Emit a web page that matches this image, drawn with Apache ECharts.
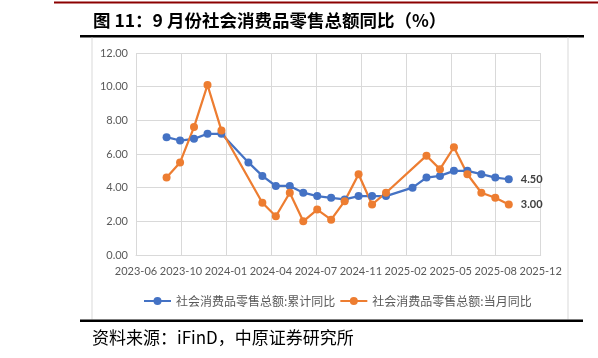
<!DOCTYPE html>
<html>
<head>
<meta charset="utf-8">
<script src="https://cdn.jsdelivr.net/npm/echarts@6/dist/echarts.min.js"></script>
<style>
html,body{margin:0;padding:0;background:#fff;}
#chart{width:598px;height:358px;}
</style>
</head>
<body>
<div id="chart"></div>
<script>
// ---- Data ----
const months = ['2023-08','2023-09','2023-10','2023-11','2023-12','2024-02','2024-03','2024-04','2024-05','2024-06','2024-07','2024-08','2024-09','2024-10','2024-11','2024-12','2025-02','2025-03','2025-04','2025-05','2025-06','2025-07','2025-08','2025-09'];
const cumulativeYoY = [7.0,6.8,6.9,7.2,7.2,5.5,4.7,4.1,4.1,3.7,3.5,3.4,3.3,3.5,3.5,3.5,4.0,4.6,4.7,5.0,5.0,4.8,4.6,4.5];
const monthlyYoY = [4.6,5.5,7.6,10.1,7.4,null,3.1,2.3,3.7,2.0,2.7,2.1,3.2,4.8,3.0,3.7,null,5.9,5.1,6.4,4.8,3.7,3.4,3.0];
const xTickLabels = ['2023-06','2023-10','2024-01','2024-04','2024-07','2024-11','2025-02','2025-05','2025-08','2025-12'];
const yTickValues = [0,2,4,6,8,10,12];
const seriesNames = ['社会消费品零售总额:累计同比','社会消费品零售总额:当月同比'];
const titleText = '图 11：9 月份社会消费品零售总额同比（%）';
const sourceText = '资料来源：iFinD，中原证券研究所';
const axisStartDate = [2023, 6, 24];
const tickDays = 100;

// ---- Helpers ----
const DAY = 864e5;
const origin = Date.UTC(axisStartDate[0], axisStartDate[1]-1, axisStartDate[2]);
function dayOffset(m){
  const p = m.split('-').map(Number);
  return (Date.UTC(p[0], p[1], 0) - origin) / DAY; // month-end date
}
function buildData(vals){
  const last = vals.length - 1;
  return vals.map((v,i)=>{
    const item = {value:[dayOffset(months[i]), v]};
    if (i === last) item.label = {show:true};
    return item;
  });
}

const chart = echarts.init(document.getElementById('chart'), null, {renderer:'canvas'});
const gray = '#d9d9d9';
const txt = '#595959';
const tickFont = 'Lato, "Open Sans", sans-serif';

const option = {
  backgroundColor:'#fff',
  animation:false,
  grid:{left:136, right:57.3, top:53, bottom:103, containLabel:false, outerBoundsMode:'none'},
  xAxis:{
    type:'value',
    min:0, max:tickDays*(xTickLabels.length-1), interval:tickDays,
    axisLine:{show:true, lineStyle:{color:gray, width:1}},
    axisTick:{show:false},
    splitLine:{show:true, lineStyle:{color:gray, width:1}},
    axisLabel:{color:txt, fontSize:11, fontFamily:tickFont, margin:11,
      formatter:(v)=>xTickLabels[Math.round(v/tickDays)] || ''}
  },
  yAxis:{
    type:'value',
    min:yTickValues[0], max:yTickValues[yTickValues.length-1], interval:yTickValues[1]-yTickValues[0],
    axisLine:{show:false}, axisTick:{show:false},
    splitLine:{show:true, lineStyle:{color:gray, width:1}},
    axisLabel:{color:txt, fontSize:11, fontFamily:tickFont, margin:8, formatter:(v)=>v.toFixed(2)}
  },
  legend:{
    left:138, top:290, itemGap:4, itemWidth:27, itemHeight:10,
    textStyle:{color:txt, fontSize:12, fontFamily:'"Noto Sans CJK SC", sans-serif'},
    data:seriesNames
  },
  series:[
    {name:seriesNames[0], type:'line', data:buildData(cumulativeYoY), connectNulls:true,
     symbol:'circle', symbolSize:8, itemStyle:{color:'#4472C4'}, lineStyle:{color:'#4472C4', width:2.25},
     label:{show:false, position:'right', distance:8, color:'#404040', fontSize:11, fontWeight:'bold', fontFamily:tickFont,
       formatter:(p)=>p.value[1].toFixed(2)}},
    {name:seriesNames[1], type:'line', data:buildData(monthlyYoY), connectNulls:true,
     symbol:'circle', symbolSize:8, itemStyle:{color:'#ED7D31'}, lineStyle:{color:'#ED7D31', width:2.25},
     label:{show:false, position:'right', distance:8, color:'#404040', fontSize:11, fontWeight:'bold', fontFamily:tickFont,
       formatter:(p)=>p.value[1].toFixed(2)}}
  ],
  graphic:[
    {type:'rect', shape:{x:54, y:1.5, width:544, height:2}, style:{fill:'#8B0000'}, silent:true},
    {type:'text', x:93, y:20, style:{text:titleText, fill:'#000', font:'bold 17.5px "Noto Sans CJK SC", sans-serif', textVerticalAlign:'middle'}},
    {type:'rect', shape:{x:80, y:35, width:504, height:2.5}, style:{fill:'#000'}, silent:true},
    {type:'rect', shape:{x:91.5, y:37.5, width:1, height:282}, style:{fill:gray}, silent:true},
    {type:'rect', shape:{x:567.5, y:37.5, width:1, height:282}, style:{fill:gray}, silent:true},
    {type:'rect', shape:{x:80, y:319.5, width:503, height:2.5}, style:{fill:'#000'}, silent:true},
    {type:'text', x:92, y:338, style:{text:sourceText, fill:'#000', font:'17px "Noto Sans CJK SC", sans-serif', textVerticalAlign:'middle'}}
  ]
};
chart.setOption(option);
</script>
</body>
</html>
